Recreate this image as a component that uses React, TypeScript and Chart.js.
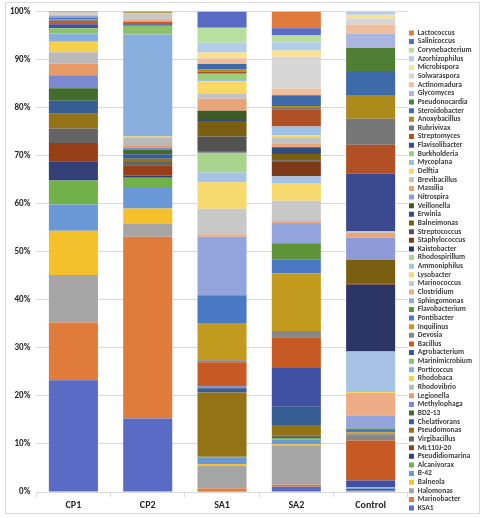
import { useEffect, useRef } from "react";
import { Chart, registerables } from "chart.js";
Chart.register(...registerables);

const categories = ["CP1", "CP2", "SA1", "SA2", "Control"];

// dataset order = stacking order, bottom (KSA1) to top (Lactococcus)
const genera = [
  "KSA1", "Marinobacter", "Halomonas", "Balneola", "B-42", "Alcanivorax",
  "Pseudidiomarina", "ML110J-20", "Virgibacillus", "Pseudomonas", "Chelativorans", "BD2-13",
  "Methylophaga", "Legionella", "Rhodovibrio", "Rhodobaca", "Porticoccus", "Marinimicrobium",
  "Agrobacterium", "Bacillus", "Devosia", "Inquilinus", "Pontibacter", "Flavobacterium",
  "Sphingomonas", "Clostridium", "Marinococcus", "Lysobacter", "Ammoniphilus", "Rhodospirillum",
  "Kaistobacter", "Staphylococcus", "Streptococcus", "Balneimonas", "Erwinia", "Veillonella",
  "Nitrospira", "Massilia", "Brevibacillus", "Delftia", "Mycoplana", "Burkholderia",
  "Flavisolibacter", "Streptomyces", "Rubrivivax", "Anoxybacillus", "Steroidobacter", "Pseudonocardia",
  "Glycomyces", "Actinomadura", "Solwaraspora", "Microbispora", "Azorhizophilus", "Corynebacterium",
  "Salinicoccus", "Lactococcus",
];

const colors = [
  "#5A6BC5", "#E07B3C", "#A5A5A5", "#F4C12C", "#6A98D6", "#72B04A",
  "#333F78", "#963F18", "#636363", "#937316", "#365D94", "#436B2C",
  "#7B89D0", "#E89A66", "#BABABA", "#F5D04A", "#88AEDD", "#8CC26A",
  "#4050A3", "#C75A23", "#878787", "#C29A1E", "#4A79C4", "#5E9437",
  "#93A5DC", "#EDAC85", "#C8C8C8", "#F6DA6E", "#A6C3E6", "#A9D48E",
  "#2B3566", "#7E3A17", "#525252", "#7A5F10", "#2F4D7A", "#3C5A24",
  "#8D9BD8", "#E8A57A", "#C2C2C2", "#F7D862", "#9EC0E6", "#9ACE7A",
  "#3B4A8E", "#B05024", "#767676", "#AD8A1C", "#3E6AAA", "#4F7F34",
  "#AAB6E2", "#EFBE9C", "#D6D6D6", "#FAE290", "#B2CCEA", "#B9DFA0",
  "#5A6BC5", "#E07B3C",
];

const cp1 = [
  23.3, 12.0, 9.9, 9.2, 5.5, 5.0,
  4.0, 3.8, 3.0, 3.1, 2.7, 2.6,
  2.7, 2.4, 2.4, 2.2, 1.7, 1.1,
  0.8, 0.7, 0.2, 0.2, 0.3, 0.1,
  0.3, 0.2, 0.3, 0.1, 0.1, 0,
  0.1, 0, 0.1, 0, 0, 0,
  0, 0, 0, 0, 0, 0,
  0, 0, 0, 0, 0, 0,
  0, 0, 0, 0, 0, 0,
  0, 0,
];

const cp2 = [
  15.3, 37.9, 2.7, 3.2, 4.5, 1.9,
  0.5, 2.1, 0.7, 0.7, 0.9, 0.9,
  0.5, 0.5, 1.5, 0.3, 21.3, 1.8,
  0.3, 0.5, 0.1, 0, 0, 0,
  0, 0.3, 1.4, 0.1, 0, 0,
  0, 0, 0, 0.3, 0, 0,
  0, 0, 0, 0, 0, 0,
  0, 0, 0, 0, 0, 0,
  0, 0, 0, 0, 0, 0,
  0, 0,
];

const sa1 = [
  0.2, 0.5, 4.8, 0.3, 1.4, 0.1,
  0, 0, 0, 13.3, 0.9, 0,
  0.4, 0, 0, 0, 0, 0,
  0, 5.0, 0.4, 7.7, 5.8, 0,
  12.1, 0.5, 5.3, 5.5, 2.0, 4.1,
  0.1, 0.1, 3.2, 3.2, 0.4, 1.7,
  0, 2.5, 1.0, 2.6, 0.3, 1.3,
  0, 0.4, 0, 0.5, 1.1, 0,
  0, 1.2, 0, 1.2, 2.0, 3.1,
  3.4, 0,
];

const sa2 = [
  1.1, 0.4, 8.2, 0.2, 1.0, 0.3,
  0, 0, 0.5, 2.2, 3.8, 0,
  0, 0, 0, 0, 0, 0,
  8.0, 6.4, 1.3, 12.0, 2.8, 3.4,
  4.2, 0.4, 4.2, 3.7, 1.4, 0,
  0, 3.0, 0.3, 1.3, 1.4, 0,
  0, 0.7, 1.4, 0.4, 1.8, 0,
  0, 3.6, 0.4, 0.3, 2.2, 0,
  0, 1.4, 6.6, 1.3, 1.7, 1.4,
  1.5, 3.5,
];

const control = [
  0.3, 0, 0, 0, 0, 0,
  0, 0, 0, 0, 0.35, 0,
  0, 0, 0, 0, 0.35, 0,
  1.4, 8.3, 1.3, 0.4, 0.5, 0.3,
  2.7, 4.7, 0, 0.2, 8.4, 0,
  13.9, 0.3, 0, 4.8, 0, 0,
  4.7, 1.0, 0.3, 0, 0, 0,
  12.0, 6.0, 5.4, 4.9, 5.0, 4.8,
  3.0, 1.9, 1.2, 0.8, 0.7, 0,
  0, 0,
];

const yTickStep = 10;

const FONT = "Carlito, 'Liberation Sans Narrow', Lato, sans-serif";
const LEGEND_FONT = "Carlito, Lato, sans-serif";

export default function App() {
  const ref = useRef<HTMLCanvasElement>(null);

  useEffect(() => {
    document.body.style.margin = "0";
    const cols = [cp1, cp2, sa1, sa2, control];
    const totals = cols.map((c) => c.reduce((a, b) => a + b, 0));
    const datasets = genera.map((g, i) => ({
      label: g,
      data: cols.map((c, j) => (c[i] / totals[j]) * 100),
      backgroundColor: colors[i],
      borderWidth: 0,
      barPercentage: 0.66,
      categoryPercentage: 1,
    }));
    const chart = new Chart(ref.current as HTMLCanvasElement, {
      type: "bar",
      data: { labels: categories, datasets },
      options: {
        animation: false,
        responsive: false,
        events: [],
        layout: { padding: { top: 4, right: 0, bottom: 5, left: 4 } },
        plugins: {
          tooltip: { enabled: false },
          legend: {
            position: "right",
            reverse: true,
            align: "end",
            labels: {
              boxWidth: 5,
              boxHeight: 5,
              padding: 1.14,
              color: "#404040",
              font: { size: 7.5, weight: "bold", family: LEGEND_FONT },
            },
          },
        },
        scales: {
          x: {
            stacked: true,
            grid: {
              display: true,
              drawOnChartArea: false,
              offset: true,
              tickLength: 5,
              color: "#d9d9d9",
            },
            border: { display: true, color: "#d9d9d9" },
            ticks: {
              color: "#262626",
              padding: 2,
              font: { size: 10, weight: "bold", family: FONT },
            },
          },
          y: {
            stacked: true,
            min: 0,
            max: 100,
            grid: { color: "#d9d9d9", drawTicks: false },
            border: { display: false },
            ticks: {
              stepSize: yTickStep,
              padding: 6,
              color: "#262626",
              callback: (v: any) => v + "%",
              font: { size: 9, weight: "bold", family: FONT },
            },
          },
        },
      },
    });
    return () => chart.destroy();
  }, []);

  return (
    <div style={{ position: "relative", width: 482, height: 518 }}>
      <canvas ref={ref} width={482} height={518} style={{ display: "block" }} />
      <div
        style={{
          position: "absolute",
          left: 5,
          top: 2,
          width: 473,
          height: 510,
          border: "1px solid #d9d9d9",
          pointerEvents: "none",
        }}
      />
    </div>
  );
}
